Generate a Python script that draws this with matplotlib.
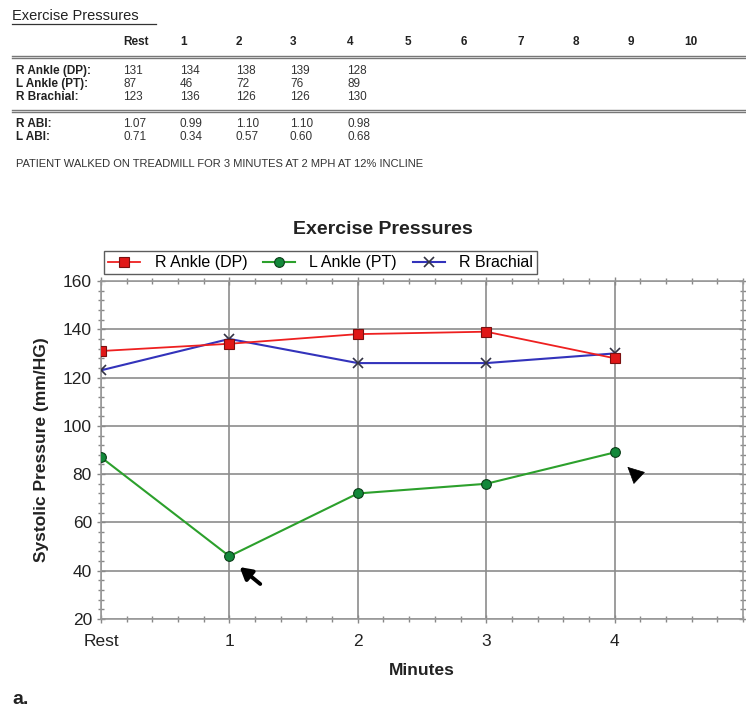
import matplotlib.pyplot as plt
from matplotlib.ticker import MultipleLocator

# data
columns = ["Rest", "1", "2", "3", "4", "5", "6", "7", "8", "9", "10"]
minutes = [0, 1, 2, 3, 4]
x_labels = ["Rest", "1", "2", "3", "4"]
r_ankle = [131, 134, 138, 139, 128]
l_ankle = [87, 46, 72, 76, 89]
r_brachial = [123, 136, 126, 126, 130]
r_abi = ["1.07", "0.99", "1.10", "1.10", "0.98"]
l_abi = ["0.71", "0.34", "0.57", "0.60", "0.68"]

W, H = 746, 713
plt.rcParams['font.family'] = ['Liberation Sans', 'DejaVu Sans']
narrow = ['Liberation Sans Narrow', 'Liberation Sans', 'DejaVu Sans']

fig = plt.figure(figsize=(W / 100, H / 100), dpi=100)


def fx(px):
    return px / W


def fy(py):
    return 1 - py / H


# ---- table part on top ----
fig.text(fx(12), fy(16), "Exercise Pressures", fontsize=10.5, family=narrow,
         color='#222222', va='center', ha='left')
fig.add_artist(plt.Line2D([fx(12), fx(156)], [fy(24), fy(24)], color='#333333', lw=0.9))

col_x = [123, 180, 236, 290, 347, 405, 461, 517, 573, 628, 684]
for name, cx in zip(columns, col_x):
    fig.text(fx(cx), fy(42), name, fontsize=8.5, family=narrow, weight='bold',
             color='#222222', va='center', ha='left')

for ly in (56, 110):
    for off in (0, 2.2):
        fig.add_artist(plt.Line2D([fx(12), 1], [fy(ly + off), fy(ly + off)],
                                  color='#777777', lw=1.0))

rows = [("R Ankle (DP):", r_ankle, 71), ("L Ankle (PT):", l_ankle, 84),
        ("R Brachial:", r_brachial, 97), ("R ABI:", r_abi, 124), ("L ABI:", l_abi, 137)]
for label, vals, ry in rows:
    fig.text(fx(16), fy(ry), label, fontsize=8.5, family=narrow, weight='bold',
             color='#222222', va='center', ha='left')
    for v, cx in zip(vals, col_x):
        fig.text(fx(cx), fy(ry), str(v), fontsize=8.5, family=narrow,
                 color='#333333', va='center', ha='left')

fig.text(fx(16), fy(164), "PATIENT WALKED ON TREADMILL FOR 3 MINUTES AT 2 MPH AT 12% INCLINE",
         fontsize=8, family=narrow, color='#333333', va='center', ha='left')

# ---- chart ----
ax = fig.add_axes([fx(101), fy(619), fx(743) - fx(101), fy(281) - fy(619)])

ax.plot(minutes, r_ankle, color='#ee2020', lw=1.3, marker='s', markersize=7,
        markerfacecolor='#e01818', markeredgecolor='#7a1010', markeredgewidth=0.8,
        label="R Ankle (DP)", zorder=4)
ax.plot(minutes, l_ankle, color='#2ca02c', lw=1.5, marker='o', markersize=7,
        markerfacecolor='#13883a', markeredgecolor='#0b3d18', markeredgewidth=0.8,
        label="L Ankle (PT)", zorder=4)
ax.plot(minutes, r_brachial, color='#3333bb', lw=1.5, marker='x', markersize=7,
        markeredgecolor='#333344', markeredgewidth=1.2,
        label="R Brachial", zorder=3)

ax.set_xlim(0, 5)
ax.set_ylim(20, 160)
ax.set_xticks(minutes)
ax.set_xticklabels(x_labels)
ax.xaxis.set_minor_locator(MultipleLocator(0.2))
ax.yaxis.set_major_locator(MultipleLocator(20))
ax.yaxis.set_minor_locator(MultipleLocator(4))
ax.grid(True, which='major', color='#8c8c8c', lw=1.2)
ax.set_axisbelow(True)
ax.tick_params(which='both', direction='inout', colors='#888888', labelcolor='#222222',
               labelsize=12.5, top=True, right=True)
ax.tick_params(which='major', length=6, width=1)
ax.tick_params(which='minor', length=4, width=1)
ax.tick_params(axis='x', pad=8)
for s in ax.spines.values():
    s.set_color('#999999')
    s.set_linewidth(1.2)

ax.set_xlabel("Minutes", fontsize=12.5, weight='bold', color='#222222', labelpad=10)
ax.set_ylabel("Systolic Pressure (mm/HG)", fontsize=12.5, weight='bold', color='#222222',
              labelpad=10)

fig.text(fx(383), fy(230), "Exercise Pressures", fontsize=14, weight='bold',
         color='#222222', ha='center', va='center')

leg = ax.legend(loc='lower left', bbox_to_anchor=(0, 1.01), ncol=3, fontsize=11.5,
                frameon=True, fancybox=False, handlelength=2.0, columnspacing=1.0,
                borderpad=0.25, handletextpad=0.9, borderaxespad=0.2)
leg.get_frame().set_edgecolor('#333333')
leg.get_frame().set_linewidth(1.0)

# arrows on the chart
ax.annotate("", xy=(1.08, 41.5), xytext=(1.24, 34.5),
            arrowprops=dict(arrowstyle='-|>,head_length=0.7,head_width=0.4',
                            color='black', lw=2.8, shrinkA=0, shrinkB=0))
ax.annotate("", xy=(4.10, 83), xytext=(4.17, 79.5),
            arrowprops=dict(arrowstyle='-|>,head_length=1.1,head_width=0.55',
                            color='black', lw=0.5, shrinkA=0, shrinkB=0))

fig.text(fx(12), fy(699), "a.", fontsize=14, weight='bold', color='#222222',
         ha='left', va='center')

fig.savefig("out.png", dpi=100)
